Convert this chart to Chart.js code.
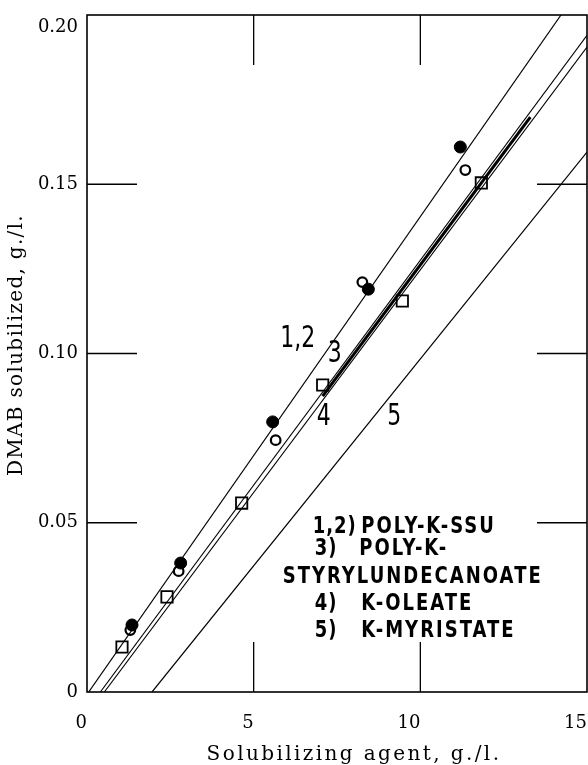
<!DOCTYPE html>
<html>
<head>
<meta charset="utf-8">
<script src="https://cdn.jsdelivr.net/npm/chart.js@4.4.1/dist/chart.umd.min.js"></script>
<style>
  html, body { margin: 0; padding: 0; background: #fff; }
  #wrap { width: 588px; height: 765px; }
</style>
</head>
<body>
<div id="wrap"><canvas id="chart" width="588" height="765"></canvas></div>
<script>
// axes
const xTicks = [0, 5, 10, 15];
const yTicks = [0, 0.05, 0.10, 0.15, 0.20];
const yTickLabels = ["0", "0.05", "0.10", "0.15", "0.20"];

// 1) filled circles
const filledX = [1.35, 2.81, 5.57, 8.44, 11.2];
const filledY = [0.0198, 0.0381, 0.0798, 0.119, 0.161];
// 2) open circles
const openX = [1.3, 2.75, 5.66, 8.26, 11.35];
const openY = [0.0183, 0.0357, 0.0744, 0.1211, 0.1542];
// 4) open squares
const squareX = [1.05, 2.4, 4.64, 7.07, 9.46, 11.83];
const squareY = [0.0133, 0.0281, 0.0558, 0.0907, 0.1155, 0.1504];

// straight lines, end points
const line12X = [0.05, 14.22], line12Y = [0, 0.20];
const line3X = [0.40, 15], line3Y = [0, 0.1940];
const line4X = [0.52, 15], line4Y = [0, 0.1905];
const line4BoldX = [7.07, 13.3], line4BoldY = [0.0874, 0.1698];
const line5X = [1.95, 15], line5Y = [0, 0.1595];

// curve numbers written on the plot
const curveLabels = ["1,2", "3", "4", "5"];
const curveLabelX = [6.32, 7.43, 7.10, 9.22];
const curveLabelY = [0.1019, 0.0975, 0.0789, 0.0789];

// key text
const keyNum = ["1,2)", "3)", "", "4)", "5)"];
const keyName = ["POLY-K-SSU", "POLY-K-", "STYRYLUNDECANOATE", "K-OLEATE", "K-MYRISTATE"];
const keyNumX = [6.77, 6.83, 0, 6.83, 6.83];
const keyNameX = [8.23, 8.17, 5.87, 8.23, 8.23];
const keyY = [0.0470, 0.0405, 0.0322, 0.0242, 0.0162];

function pts(xs, ys) {
    return xs.map((x, i) => ({ x: x, y: ys[i] }));
}

function lineSet(xs, ys, w) {
    return {
        data: pts(xs, ys),
        showLine: true,
        borderColor: "#000",
        borderWidth: w,
        pointRadius: 0
    };
}

function drawText(ctx, txt, px, py, font, spacing, sy, align) {
    ctx.save();
    ctx.font = font;
    ctx.letterSpacing = spacing + "px";
    ctx.textAlign = align;
    ctx.textBaseline = "alphabetic";
    ctx.fillStyle = "#000";
    ctx.translate(px, py);
    ctx.scale(1, sy);
    ctx.fillText(txt, 0, 0);
    ctx.restore();
}

// frame, inner ticks, labels and titles
const decorations = {
    id: "decorations",
    afterDraw(chart) {
        const ctx = chart.ctx;
        const a = chart.chartArea;
        const xs = chart.scales.x, ys = chart.scales.y;

        ctx.save();
        ctx.strokeStyle = "#000";
        ctx.lineWidth = 1.6;
        ctx.strokeRect(a.left, a.top, a.right - a.left, a.bottom - a.top);

        ctx.lineWidth = 1.3;
        const len = 50;
        xTicks.slice(1, -1).forEach(v => {
            const p = xs.getPixelForValue(v);
            ctx.beginPath();
            ctx.moveTo(p, a.bottom); ctx.lineTo(p, a.bottom - len);
            ctx.moveTo(p, a.top); ctx.lineTo(p, a.top + len);
            ctx.stroke();
        });
        yTicks.slice(1, -1).forEach(v => {
            const p = ys.getPixelForValue(v);
            ctx.beginPath();
            ctx.moveTo(a.left, p); ctx.lineTo(a.left + len, p);
            ctx.moveTo(a.right, p); ctx.lineTo(a.right - len, p);
            ctx.stroke();
        });
        ctx.restore();

        // y tick labels
        ctx.save();
        ctx.font = '18px "DejaVu Serif"';
        ctx.fillStyle = "#000";
        ctx.textAlign = "right";
        ctx.textBaseline = "middle";
        yTicks.forEach((v, i) => {
            const p = Math.max(ys.getPixelForValue(v), a.top + 12);
            ctx.fillText(yTickLabels[i], a.left - 9, p);
        });
        ctx.restore();

        // axis titles
        drawText(ctx, "Solubilizing agent, g./l.", 354, 760, '20px "DejaVu Serif"', 2.4, 1, "center");
        ctx.save();
        ctx.translate(22, 345);
        ctx.rotate(-Math.PI / 2);
        drawText(ctx, "DMAB solubilized, g./l.", 0, 0, '20px "DejaVu Serif"', 1.3, 1, "center");
        ctx.restore();

        // curve numbers
        curveLabels.forEach((t, i) => {
            drawText(ctx, t, xs.getPixelForValue(curveLabelX[i]), ys.getPixelForValue(curveLabelY[i]),
                '22px "DejaVu Sans"', 0, 1.35, "center");
        });

        // key
        keyName.forEach((t, i) => {
            const py = ys.getPixelForValue(keyY[i]);
            if (keyNum[i]) {
                drawText(ctx, keyNum[i], xs.getPixelForValue(keyNumX[i]), py, 'bold 18px "DejaVu Sans"', 1, 1.25, "left");
            }
            drawText(ctx, t, xs.getPixelForValue(keyNameX[i]), py, 'bold 18px "DejaVu Sans"', 2, 1.25, "left");
        });
    }
};

new Chart(document.getElementById("chart"), {
    type: "scatter",
    data: {
        datasets: [
            lineSet(line12X, line12Y, 1.2),
            lineSet(line3X, line3Y, 1.1),
            lineSet(line4X, line4Y, 1.1),
            lineSet(line4BoldX, line4BoldY, 3),
            lineSet(line5X, line5Y, 1.2),
            {
                data: pts(squareX, squareY),
                pointStyle: "rect",
                pointRadius: 8,
                pointBackgroundColor: "#fff",
                pointBorderColor: "#000",
                pointBorderWidth: 1.8
            },
            {
                data: pts(filledX, filledY),
                pointStyle: "circle",
                pointRadius: 6,
                pointBackgroundColor: "#000",
                pointBorderColor: "#000",
                pointBorderWidth: 1
            },
            {
                data: pts(openX, openY),
                pointStyle: "circle",
                pointRadius: 4.8,
                pointBackgroundColor: "#fff",
                pointBorderColor: "#000",
                pointBorderWidth: 2.2
            }
        ]
    },
    options: {
        responsive: false,
        animation: false,
        layout: { autoPadding: false, padding: { top: 15, right: 1, left: 0, bottom: 0 } },
        plugins: {
            legend: { display: false },
            tooltip: { enabled: false }
        },
        scales: {
            x: {
                type: "linear",
                min: 0,
                max: 15,
                afterBuildTicks: s => { s.ticks = xTicks.map(v => ({ value: v })); },
                afterFit: s => { s.height = 73; s.paddingLeft = 0; s.paddingRight = 0; },
                grid: { display: false },
                border: { display: false },
                ticks: {
                    align: "end",
                    padding: 13,
                    color: "#000",
                    font: { family: "DejaVu Serif", size: 18 },
                    callback: v => String(v)
                }
            },
            y: {
                type: "linear",
                min: 0,
                max: 0.20,
                afterBuildTicks: s => { s.ticks = yTicks.map(v => ({ value: v })); },
                afterFit: s => { s.width = 87; s.paddingTop = 0; s.paddingBottom = 0; },
                grid: { display: false },
                border: { display: false },
                ticks: { display: false }
            }
        }
    },
    plugins: [decorations]
});
</script>
</body>
</html>
